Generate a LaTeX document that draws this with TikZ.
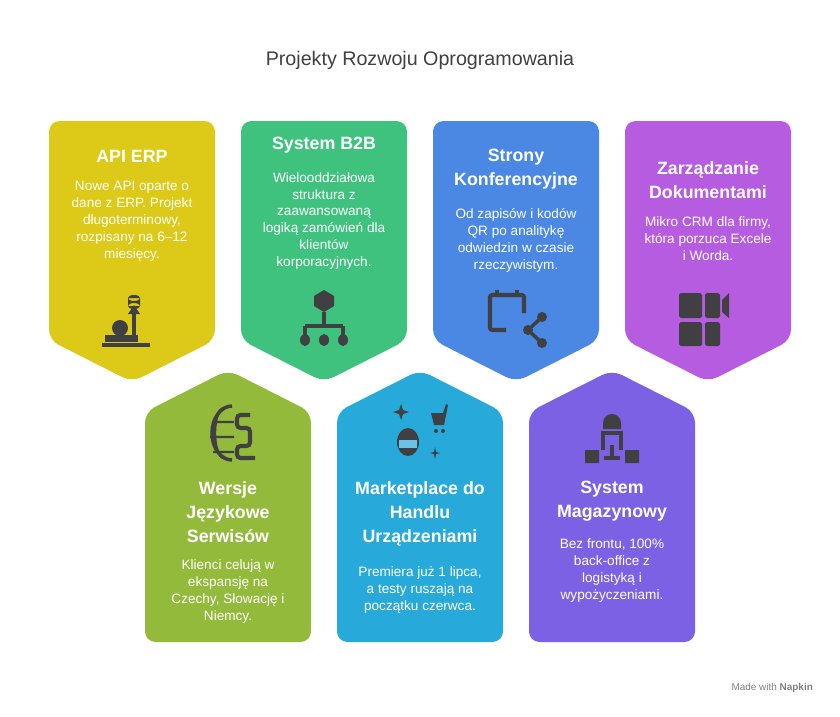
\documentclass[tikz,border=0pt]{standalone}
\usepackage{fontspec}
\setmainfont{Liberation Sans}
\usetikzlibrary{positioning}
\definecolor{ercol}{HTML}{DCC918}
\definecolor{bbcol}{HTML}{3EC27E}
\definecolor{kfcol}{HTML}{4A88E4}
\definecolor{dkcol}{HTML}{B55CE0}
\definecolor{jzcol}{HTML}{93BA3A}
\definecolor{mpcol}{HTML}{27A9D9}
\definecolor{mgcol}{HTML}{7C61E4}
\definecolor{icon}{HTML}{404042}
\tikzset{
    head/.style={text=white,font=\bfseries\fontsize{15.2}{20.5}\selectfont,align=center,inner sep=0pt},
    body/.style={text=white,font=\fontsize{11.6}{14.5}\selectfont,align=center,inner sep=0pt},
}
% tiles pointing down / up, #1 = left x, #2 = colour
\newcommand{\downtile}[2]{\fill[#2,rounded corners=9] (#1,121) -- (#1+166,121) -- (#1+166,340) -- (#1+83,382) -- (#1,340) -- cycle;}
\newcommand{\uptile}[2]{\fill[#2,rounded corners=9] (#1,412) -- (#1+83,370) -- (#1+166,412) -- (#1+166,642) -- (#1,642) -- cycle;}
\begin{document}
\begin{tikzpicture}[x=0.03cm,y=-0.03cm]
    \useasboundingbox (0,0) rectangle (840,716);
    \node (title) at (420,60) {\fontsize{16.8}{20}\selectfont\color{icon}Projekty Rozwoju Oprogramowania};

    \downtile{49}{ercol}
    \downtile{241}{bbcol}
    \downtile{433}{kfcol}
    \downtile{625}{dkcol}
    \uptile{145}{jzcol}
    \uptile{337}{mpcol}
    \uptile{529}{mgcol}

    % top row
    \node[head,anchor=north] (erphead) at (132,150) {API ERP};
    \node[body,below=5.5mm of erphead] (erpbody) {Nowe API oparte o\\dane z ERP. Projekt\\długoterminowy,\\rozpisany na 6–12\\miesięcy.};
    \node[head,anchor=north] (b2bhead) at (324,137) {System B2B};
    \node[body,below=5.5mm of b2bhead] (b2bbody) {Wielooddziałowa\\struktura z\\zaawansowaną\\logiką zamówień dla\\klientów\\korporacyjnych.};
    \node[head,anchor=north] (konfhead) at (516,149) {Strony\\Konferencyjne};
    \node[body,below=5.5mm of konfhead] (konfbody) {Od zapisów i kodów\\QR po analitykę\\odwiedzin w czasie\\rzeczywistym.};
    \node[head,anchor=north] (dokhead) at (708,161) {Zarządzanie\\Dokumentami};
    \node[body,below=5.5mm of dokhead] (dokbody) {Mikro CRM dla firmy,\\która porzuca Excele\\i Worda.};

    % bottom row
    \node[head,anchor=north] (jezhead) at (228,481) {Wersje\\Językowe\\Serwisów};
    \node[body,below=5mm of jezhead] (jezbody) {Klienci celują w\\ekspansję na\\Czechy, Słowację i\\Niemcy.};
    \node[head,anchor=north] (markhead) at (420,481) {Marketplace do\\Handlu\\Urządzeniami};
    \node[body,below=6mm of markhead] (markbody) {Premiera już 1 lipca,\\a testy ruszają na\\początku czerwca.};
    \node[head,anchor=north] (maghead) at (612,481) {System\\Magazynowy};
    \node[body,below=5mm of maghead] (magbody) {Bez frontu, 100\%\\back-office z\\logistyką i\\wypożyczeniami.};

    % icons
    \fill[icon] (102,347) -- (150,347) -- (150,343) -- (102,343) -- cycle;
    \fill[icon] (120,328) circle (8);
    \fill[icon] (105,335) rectangle (138,342);
    \fill[icon] (132,312) rectangle (136,340);
    \fill[icon] (128,314) -- (134,305) -- (140,314) -- cycle;
    \fill[icon] (134,298) ellipse (6 and 3) (128,298) rectangle (140,306) (134,306) ellipse (6 and 3);

    \fill[icon] (324,290) -- (334,296) -- (334,306) -- (324,312) -- (314,306) -- (314,296) -- cycle;
    \draw[icon,line width=3] (324,312) -- (324,326) (305,326) -- (343,326) (305,326) -- (305,336) (343,326) -- (343,336);
    \fill[icon] (305,340) ellipse (5 and 6) (324,340) ellipse (5 and 6) (343,340) ellipse (5 and 6);

    \draw[icon,line width=3.5,rounded corners=2] (506,330) -- (490,330) -- (490,295) -- (524,295) -- (524,313);
    \draw[icon,line width=3] (497,290) -- (497,297) (517,290) -- (517,297);
    \fill[icon] (542,317) circle (5) (542,343) circle (5) (528,330) circle (5);
    \draw[icon,line width=3] (542,317) -- (528,330) -- (542,343);

    \fill[icon,rounded corners=1.5] (679,293) rectangle (702,318) (705,293) rectangle (720,318) (679,322) rectangle (702,346) (705,322) rectangle (720,346);
    \fill[icon] (722,300) -- (729,293) -- (729,318) -- (722,312) -- cycle;

    \draw[icon,line width=3] (232,406) arc (270:90:20 and 27);
    \draw[icon,line width=2] (224,408) arc (270:90:9 and 25) (213,422) -- (234,422) (210,437) -- (234,437) (213,452) -- (234,452);
    \draw[icon,line width=3.5,rounded corners=3] (250,415) -- (237,415) -- (237,428) -- (250,428) -- (250,446) -- (237,446) -- (237,458) -- (255,458);

    \fill[icon] (408,442) ellipse (11 and 14);
    \fill[mpcol!70!white] (399,440) rectangle (417,448);
    \fill[icon] (431,413) -- (443,413) -- (446,404) -- (448,405) -- (444,425) -- (434,425) -- cycle;
    \fill[icon] (436,431) circle (2) (443,431) circle (2);
    \fill[icon] (401,404) -- (403,410) -- (409,412) -- (403,414) -- (401,420) -- (399,414) -- (393,412) -- (399,410) -- cycle;
    \fill[icon] (435,447) -- (436,452) -- (440,453) -- (436,454) -- (435,459) -- (434,454) -- (430,453) -- (434,452) -- cycle;

    \fill[icon] (603,423) arc (180:360:9) -- (621,429) -- (603,429) -- cycle;
    \draw[icon,line width=3.5] (603,450) -- (603,433) -- (621,433) -- (621,450);
    \draw[icon,line width=3] (612,445) -- (612,458) (604,458) -- (620,458);
    \fill[icon] (585,450) rectangle (599,463) (625,450) rectangle (639,463);

    \node[anchor=east] (credit) at (817,688) {\fontsize{8.5}{10}\selectfont\color{gray}Made with \textbf{Napkin}};
\end{tikzpicture}
\end{document}
